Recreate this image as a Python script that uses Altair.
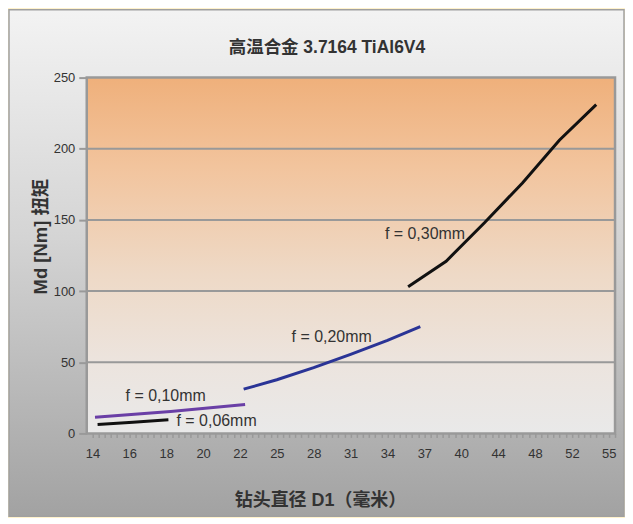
import altair as alt
import pandas as pd

# ---- data ----
x_labels = ["14", "16", "18", "20", "22", "25", "28", "31", "34", "37", "40", "44", "48", "52", "55"]
y_ticks = [0, 50, 100, 150, 200, 250]
grid_values = [50, 100, 150, 200]

s006_x = [0.14, 1.10, 2.06]
s006_y = [6.3, 7.9, 9.6]
s010_x = [0.07, 2.12, 4.14]
s010_y = [11.4, 15.4, 20.3]
s020_x = [4.10, 5.0, 6.0, 7.0, 8.0, 8.89]
s020_y = [31.1, 37.7, 46.2, 55.6, 65.4, 75.0]
s030_x = [8.56, 9.59, 10.63, 11.66, 12.66, 13.66]
s030_y = [103, 121, 148, 176, 206, 231]

series_names = ["f = 0,06mm", "f = 0,10mm", "f = 0,20mm", "f = 0,30mm"]
series_colors = ["#111111", "#6a3fa6", "#2a3496", "#111111"]
label_x = [2.28, 0.90, 5.40, 7.93]
label_y = [8.6, 26, 68, 140]

title_text = "高温合金 3.7164 TiAl6V4"
x_title = "钻头直径 D1（毫米）"
y_title = "Md [Nm] 扭矩"

# ---- build tables ----
rows = []
for name, xs, ys in zip(series_names, [s006_x, s010_x, s020_x, s030_x], [s006_y, s010_y, s020_y, s030_y]):
    for i, (xv, yv) in enumerate(zip(xs, ys)):
        rows.append({"series": name, "x": xv, "y": yv, "i": i})
lines_df = pd.DataFrame(rows)
labels_df = pd.DataFrame({"x": label_x, "y": label_y, "label": series_names})
grid_df = pd.DataFrame({"y": grid_values})
one = pd.DataFrame({"a": [0]})

W, H = 530, 357
FONT = "Liberation Sans, Arial, Noto Sans CJK SC"

labels_js = "[" + ",".join("'" + l + "'" for l in x_labels) + "]"
x_axis = alt.Axis(
    values=[k / 6 for k in range(86)],
    labelExpr="abs(datum.value - round(datum.value)) < 0.01 ? " + labels_js + "[round(datum.value)] : ''",
    labelOverlap=False, labelFlush=False, labelBound=False,
    tickSize=4, tickColor="#999999", tickWidth=1.5,
    domain=False, grid=False,
    labelFont=FONT, labelFontSize=13, labelColor="#333333", labelPadding=10,
    title=x_title, titleFont=FONT, titleFontSize=18, titleFontWeight="bold", titleColor="#333333",
    titleX=234, titleY=67, titleAlign="center", titleBaseline="middle", titleAngle=0,
    zindex=1,
)
y_axis = alt.Axis(
    values=y_ticks,
    tickSize=8, tickColor="#999999", tickWidth=2,
    domain=False, grid=False,
    labelFont=FONT, labelFontSize=13, labelColor="#333333", labelPadding=4,
    title=y_title, titleFont=FONT, titleFontSize=18.5, titleFontWeight="bold", titleColor="#333333",
    titleX=-46, titleY=159, titleAlign="center", titleBaseline="middle", titleAngle=270,
    zindex=1,
)
x_scale = alt.Scale(domain=[-0.154, 14.17], nice=False, zero=False)
y_scale = alt.Scale(domain=[0, 250], nice=False)
x_enc = alt.X("x:Q", scale=x_scale, axis=x_axis)
y_enc = alt.Y("y:Q", scale=y_scale, axis=y_axis)

panel_grad = alt.Gradient(
    gradient="linear", x1=0, x2=0, y1=0, y2=1,
    stops=[alt.GradientStop(offset=0, color="#f3f3f3"),
           alt.GradientStop(offset=0.45, color="#d4d4d4"),
           alt.GradientStop(offset=1, color="#a2a2a2")],
)
plot_grad = alt.Gradient(
    gradient="linear", x1=0, x2=0, y1=0, y2=1,
    stops=[alt.GradientStop(offset=0, color="#efb07b"),
           alt.GradientStop(offset=0.25, color="#f2c49d"),
           alt.GradientStop(offset=0.55, color="#eed9c6"),
           alt.GradientStop(offset=0.8, color="#ece4de"),
           alt.GradientStop(offset=1, color="#e9e9e9")],
)

panel = alt.Chart(one).mark_rect(fill=panel_grad, stroke="#a0a0a0", strokeWidth=1.5).encode(
    x=alt.value(-78), x2=alt.value(539), y=alt.value(-68), y2=alt.value(440)
)
plot_bg = alt.Chart(one).mark_rect(fill=plot_grad, stroke="#999999", strokeWidth=2.5).encode(
    x=alt.value(0), x2=alt.value(W), y=alt.value(0), y2=alt.value(H)
)
grid = alt.Chart(grid_df).mark_rule(color="#999999", strokeWidth=2).encode(y=y_enc)

lines = alt.Chart(lines_df).mark_line(strokeWidth=3).encode(
    x=x_enc, y=y_enc,
    color=alt.Color("series:N", scale=alt.Scale(domain=series_names, range=series_colors), legend=None),
    order="i:Q",
)
texts = alt.Chart(labels_df).mark_text(
    align="left", baseline="middle", font=FONT, fontSize=16, color="#333333"
).encode(x=x_enc, y=y_enc, text="label:N")

title = alt.Chart(pd.DataFrame({"t": [title_text]})).mark_text(
    align="center", baseline="middle", font=FONT, fontSize=17.5, fontWeight="bold", color="#333333"
).encode(x=alt.value(241), y=alt.value(-30), text="t:N")

chart = alt.layer(panel, plot_bg, grid, lines, texts, title).properties(
    width=W, height=H, padding=0, background="#fff2cc"
).configure_view(stroke=None)

chart.save("out.html", embed_options={"renderer": "svg", "actions": False})
